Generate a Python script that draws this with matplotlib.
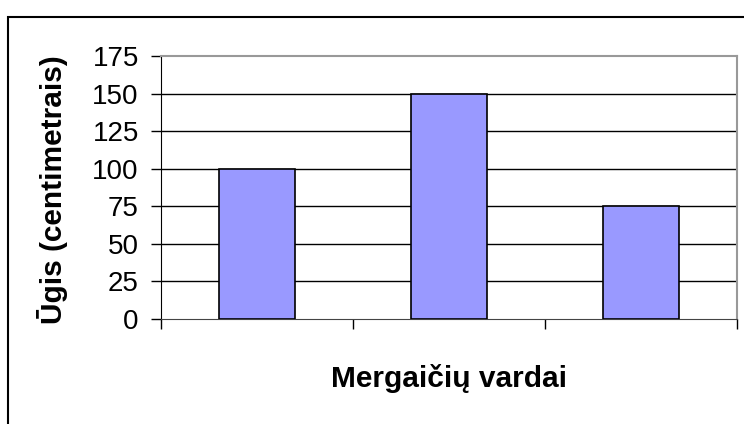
import matplotlib.pyplot as plt
from matplotlib.patches import Rectangle

plt.rcParams["font.family"] = ["Liberation Sans", "DejaVu Sans"]

# duomenys
vardai = ["", "", ""]
ugis = [100, 150, 75]
y_ticks = [0, 25, 50, 75, 100, 125, 150, 175]

W, H = 744, 424
fig = plt.figure(figsize=(W / 100, H / 100), dpi=100)

# išorinis rėmelis (diagramos sritis)
fig.patches.append(
    Rectangle((8 / W, -0.05), 1.0, 1 - 17 / H + 0.05,
              transform=fig.transFigure, fill=False,
              edgecolor="black", linewidth=1.5)
)

ax = fig.add_axes([161 / W, 1 - 319 / H, 576 / W, 263 / H])

x = range(len(ugis))
ax.bar(x, ugis, width=0.4, color="#9999FF", edgecolor="black",
       linewidth=1.2, zorder=3)

ax.set_xlim(-0.5, len(ugis) - 0.5)
ax.set_ylim(0, 175)
ax.set_yticks(y_ticks)
ax.set_yticklabels([str(v) for v in y_ticks], fontsize=20)
ax.set_xticks([i - 0.5 for i in range(len(ugis) + 1)])
ax.set_xticklabels([])
ax.tick_params(axis="y", direction="out", length=7, width=1, pad=9)
ax.tick_params(axis="x", direction="out", length=7, width=1)

# tinklelis
for v in y_ticks[1:-1]:
    ax.axhline(v, color="black", linewidth=1, zorder=1)

ax.spines["top"].set_color("#999999")
ax.spines["right"].set_color("#999999")
ax.spines["top"].set_linewidth(1.5)
ax.spines["right"].set_linewidth(1.5)
ax.spines["left"].set_color("black")
ax.spines["bottom"].set_color("#444444")

# ašių pavadinimai
fig.text(53 / W, 1 - 190 / H, "Ūgis (centimetrais)", rotation=90,
         ha="center", va="center", fontsize=21.5, fontweight="bold")
fig.text(449 / W, 1 - 387 / H, "Mergaičių vardai",
         ha="center", va="baseline", fontsize=21.5, fontweight="bold")

plt.savefig("out.png", dpi=100)
